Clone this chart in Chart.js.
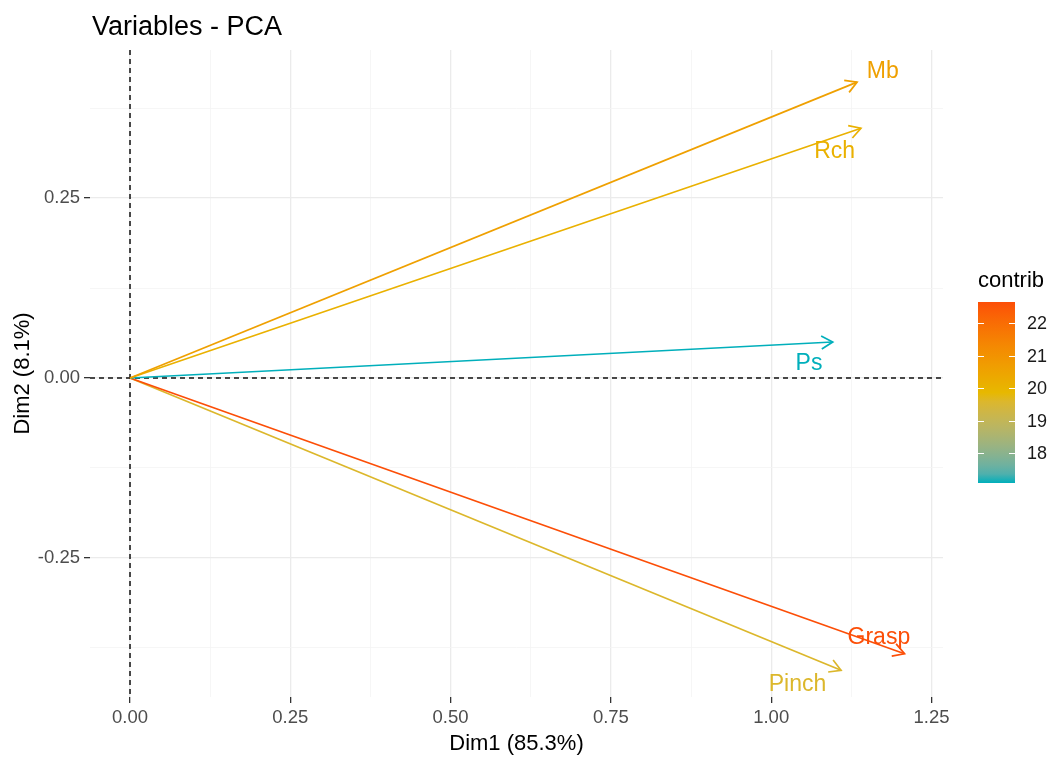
<!DOCTYPE html>
<html>
<head>
<meta charset="utf-8">
<script src="https://cdn.jsdelivr.net/npm/chart.js@4"></script>
<style>
  html, body { margin: 0; padding: 0; background: #fff; }
  #wrap { width: 1055px; height: 760px; }
</style>
</head>
<body>
<div id="wrap"><canvas id="pca"></canvas></div>
<script>
// variable coordinates on Dim1 / Dim2 and their contributions
const variables = ['Mb', 'Rch', 'Ps', 'Grasp', 'Pinch'];
const dim1 = [1.134, 1.140, 1.096, 1.208, 1.109];
const dim2 = [0.411, 0.347, 0.050, -0.383, -0.406];
const contrib = [20.6, 20.1, 17.08, 22.65, 19.6];
// where the names were placed (data units)
const labelX = [1.174, 1.099, 1.059, 1.168, 1.041];
const labelY = [0.429, 0.318, 0.024, -0.357, -0.422];

const xTicks = [0, 0.25, 0.5, 0.75, 1, 1.25];
const yTicks = [-0.25, 0, 0.25];
const legendTicks = [18, 19, 20, 21, 22];

const FONT = '"Liberation Sans", Arial, sans-serif';

// minor grid lines halfway between the major ones (plus one each side)
function withMinors(major) {
  const step = major[1] - major[0];
  const out = [major[0] - step / 2];
  major.forEach(v => { out.push(v); out.push(v + step / 2); });
  return out;
}
const isMajor = (list, v) => list.some(t => Math.abs(t - v) < 1e-9);

// --- colour gradient low -> mid -> high, interpolated in Lab like ggplot ---
const lowCol = [0, 175, 187], midCol = [231, 184, 0], highCol = [252, 78, 7];
const cMin = Math.min(...contrib), cMax = Math.max(...contrib);
const cMid = (cMin + cMax) / 2;

function toLab(rgb) {
  const lin = rgb.map(c => { c /= 255; return c <= 0.04045 ? c / 12.92 : Math.pow((c + 0.055) / 1.055, 2.4); });
  const X = (0.4124 * lin[0] + 0.3576 * lin[1] + 0.1805 * lin[2]) / 0.95047;
  const Y = 0.2126 * lin[0] + 0.7152 * lin[1] + 0.0722 * lin[2];
  const Z = (0.0193 * lin[0] + 0.1192 * lin[1] + 0.9505 * lin[2]) / 1.08883;
  const f = t => t > 0.008856 ? Math.cbrt(t) : 7.787 * t + 16 / 116;
  const fx = f(X), fy = f(Y), fz = f(Z);
  return [116 * fy - 16, 500 * (fx - fy), 200 * (fy - fz)];
}
function fromLab(lab) {
  const fy = (lab[0] + 16) / 116, fx = fy + lab[1] / 500, fz = fy - lab[2] / 200;
  const inv = t => t * t * t > 0.008856 ? t * t * t : (t - 16 / 116) / 7.787;
  const X = inv(fx) * 0.95047, Y = inv(fy), Z = inv(fz) * 1.08883;
  const lin = [
    3.2406 * X - 1.5372 * Y - 0.4986 * Z,
    -0.9689 * X + 1.8758 * Y + 0.0415 * Z,
    0.0557 * X - 0.2040 * Y + 1.0570 * Z
  ];
  return lin.map(c => {
    c = c <= 0.0031308 ? 12.92 * c : 1.055 * Math.pow(c, 1 / 2.4) - 0.055;
    return Math.max(0, Math.min(255, Math.round(c * 255)));
  });
}
function mixLab(a, b, t) {
  const la = toLab(a), lb = toLab(b);
  const c = fromLab(la.map((v, k) => v + (lb[k] - v) * t));
  return 'rgb(' + c.join(',') + ')';
}
function contribColor(v) {
  if (v <= cMid) return mixLab(lowCol, midCol, (v - cMin) / (cMid - cMin));
  return mixLab(midCol, highCol, (v - cMid) / (cMax - cMid));
}

const datasets = variables.map((name, i) => ({
  label: name,
  data: [{ x: 0, y: 0 }, { x: dim1[i], y: dim2[i] }],
  borderColor: contribColor(contrib[i]),
  borderWidth: 1.7,
  pointRadius: 0,
  showLine: true,
  fill: false
}));

const pcaDecor = {
  id: 'pcaDecor',
  beforeDatasetsDraw(chart) {
    const { ctx, chartArea: a, scales } = chart;
    const x0 = scales.x.getPixelForValue(0);
    const y0 = scales.y.getPixelForValue(0);
    ctx.save();
    ctx.strokeStyle = '#111';
    ctx.lineWidth = 1.5;
    ctx.setLineDash([5, 4]);
    ctx.beginPath();
    ctx.moveTo(a.left, y0); ctx.lineTo(a.right, y0);
    ctx.moveTo(x0, a.top); ctx.lineTo(x0, a.bottom);
    ctx.stroke();
    ctx.restore();
  },
  afterDatasetsDraw(chart) {
    const { ctx, scales } = chart;
    const ox = scales.x.getPixelForValue(0);
    const oy = scales.y.getPixelForValue(0);
    ctx.save();
    variables.forEach((name, i) => {
      const col = contribColor(contrib[i]);
      const tx = scales.x.getPixelForValue(dim1[i]);
      const ty = scales.y.getPixelForValue(dim2[i]);
      const ang = Math.atan2(ty - oy, tx - ox);
      const len = 13, spread = Math.PI / 6;
      ctx.strokeStyle = col;
      ctx.lineWidth = 1.7;
      ctx.beginPath();
      ctx.moveTo(tx - len * Math.cos(ang - spread), ty - len * Math.sin(ang - spread));
      ctx.lineTo(tx, ty);
      ctx.lineTo(tx - len * Math.cos(ang + spread), ty - len * Math.sin(ang + spread));
      ctx.stroke();

      ctx.fillStyle = col;
      ctx.font = '23px ' + FONT;
      ctx.textAlign = 'center';
      ctx.textBaseline = 'middle';
      // +3px: centre on the cap height rather than the em box
      ctx.fillText(name, scales.x.getPixelForValue(labelX[i]), scales.y.getPixelForValue(labelY[i]) + 3);
    });
    ctx.restore();
  },
  afterDraw(chart) {
    const ctx = chart.ctx;
    ctx.save();
    // title
    ctx.fillStyle = '#000';
    ctx.font = '27px ' + FONT;
    ctx.textAlign = 'left';
    ctx.textBaseline = 'alphabetic';
    ctx.fillText('Variables - PCA', 92, 35);

    // colour bar legend
    const bx = 978, bw = 37, top = 302, bottom = 483;
    const g = ctx.createLinearGradient(0, bottom, 0, top);
    for (let k = 0; k <= 20; k++) {
      g.addColorStop(k / 20, contribColor(cMin + (cMax - cMin) * k / 20));
    }
    ctx.fillStyle = g;
    ctx.fillRect(bx, top, bw, bottom - top);

    ctx.fillStyle = '#000';
    ctx.font = '22px ' + FONT;
    ctx.textBaseline = 'middle';
    ctx.fillText('contrib', bx, 281);

    const yFor = v => bottom - (v - cMin) / (cMax - cMin) * (bottom - top);
    ctx.strokeStyle = '#fff';
    ctx.lineWidth = 1;
    ctx.font = '18px ' + FONT;
    ctx.fillStyle = '#1a1a1a';
    legendTicks.forEach(v => {
      const py = Math.round(yFor(v)) + 0.5;
      ctx.beginPath();
      ctx.moveTo(bx, py); ctx.lineTo(bx + 6, py);
      ctx.moveTo(bx + bw - 6, py); ctx.lineTo(bx + bw, py);
      ctx.stroke();
      ctx.fillText(String(v), 1027, py + 1);
    });
    ctx.restore();
  }
};

function axisGrid(major) {
  return {
    color: c => isMajor(major, c.tick.value) ? '#EBEBEB' : '#F4F4F4',
    lineWidth: c => isMajor(major, c.tick.value) ? 1.3 : 0.8,
    tickColor: c => isMajor(major, c.tick.value) ? '#333333' : 'rgba(0,0,0,0)',
    tickWidth: 1.3,
    tickLength: 6,
    drawTicks: true
  };
}

new Chart(document.getElementById('pca'), {
  type: 'scatter',
  data: { datasets: datasets },
  options: {
    responsive: true,
    maintainAspectRatio: false,
    animation: false,
    layout: { padding: { top: 50, right: 112, left: 0, bottom: 0 } },
    plugins: { legend: { display: false }, tooltip: { enabled: false }, title: { display: false } },
    scales: {
      x: {
        type: 'linear',
        min: -0.0624,
        max: 1.268,
        afterBuildTicks: s => { s.ticks = withMinors(xTicks).filter(v => v >= s.min && v <= s.max).map(v => ({ value: v })); },
        afterFit: s => { s.height = 63; },
        grid: axisGrid(xTicks),
        border: { display: false },
        ticks: {
          autoSkip: false, maxRotation: 0, padding: 4,
          color: '#4D4D4D', font: { family: FONT, size: 18.5 },
          callback: v => isMajor(xTicks, v) ? v.toFixed(2) : ''
        },
        title: { display: true, text: 'Dim1 (85.3%)', color: '#000', font: { family: FONT, size: 22 }, padding: { top: 0, bottom: 3 } }
      },
      y: {
        type: 'linear',
        min: -0.4431,
        max: 0.4556,
        afterBuildTicks: s => { s.ticks = withMinors(yTicks).filter(v => v >= s.min && v <= s.max).map(v => ({ value: v })); },
        afterFit: s => { s.width = 90; },
        grid: axisGrid(yTicks),
        border: { display: false },
        ticks: {
          autoSkip: false, padding: 4,
          color: '#4D4D4D', font: { family: FONT, size: 18.5 },
          callback: v => isMajor(yTicks, v) ? v.toFixed(2) : ''
        },
        title: { display: true, text: 'Dim2 (8.1%)', color: '#000', font: { family: FONT, size: 22 }, padding: { top: 10, bottom: 0 } }
      }
    }
  },
  plugins: [pcaDecor]
});
</script>
</body>
</html>
